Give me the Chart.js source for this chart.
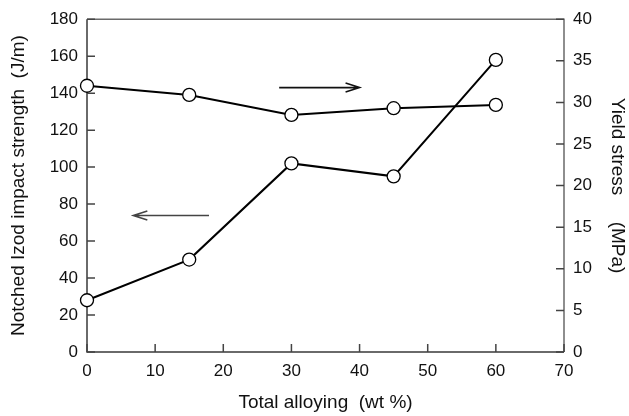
<!DOCTYPE html>
<html>
<head>
<meta charset="utf-8">
<script src="https://cdn.jsdelivr.net/npm/chart.js@4/dist/chart.umd.min.js"></script>
<style>
html,body{margin:0;padding:0;background:#fff;}
#wrap{width:629px;height:416px;}
</style>
</head>
<body>
<div id="wrap"><canvas id="c" width="629" height="416"></canvas></div>
<script>
// ---- data ----
const alloying = [0, 15, 30, 45, 60];            // wt %
const impactStrength = [28, 50, 102, 95, 158];   // J/m (left axis)
const yieldStress = [32.0, 30.9, 28.5, 29.3, 29.7]; // MPa (right axis)
const xTitle = 'Total alloying  (wt %)';
const yLeftTitle = 'Notched Izod impact strength  (J/m)';
const yRightTitle = 'Yield stress     (MPa)';
// annotation arrows: [xFrom, xTo, yLeftValue]
const arrowRight = [28.2, 40, 143];
const arrowLeft = [17.9, 6.8, 73.8];

const FONT = 'Liberation Sans, Arial, Helvetica, sans-serif';

const framePlugin = {
  id: 'frame',
  beforeDatasetsDraw(chart) {
    const {ctx, chartArea: a, scales} = chart;
    ctx.save();
    ctx.lineCap = 'butt';
    ctx.strokeStyle = '#6a6a6a';
    ctx.lineWidth = 1.5;
    ctx.beginPath();
    ctx.moveTo(a.left, a.top); ctx.lineTo(a.right, a.top); ctx.lineTo(a.right, a.bottom);
    ctx.stroke();
    ctx.strokeStyle = '#3a3a3a';
    ctx.beginPath();
    ctx.moveTo(a.left, a.top); ctx.lineTo(a.left, a.bottom); ctx.lineTo(a.right, a.bottom);
    ctx.stroke();
    const L = 8;
    ctx.strokeStyle = '#444';
    ctx.lineWidth = 1.5;
    ctx.beginPath();
    scales.y.ticks.forEach(t => {
      const p = scales.y.getPixelForValue(t.value);
      ctx.moveTo(a.left, p); ctx.lineTo(a.left + L, p);
    });
    scales.y2.ticks.forEach(t => {
      const p = scales.y2.getPixelForValue(t.value);
      ctx.moveTo(a.right, p); ctx.lineTo(a.right - L, p);
    });
    scales.x.ticks.forEach(t => {
      const p = scales.x.getPixelForValue(t.value);
      ctx.moveTo(p, a.bottom); ctx.lineTo(p, a.bottom - L);
    });
    ctx.stroke();
    function arrow(spec, color) {
      const x0 = scales.x.getPixelForValue(spec[0]);
      const x1 = scales.x.getPixelForValue(spec[1]);
      const y = scales.y.getPixelForValue(spec[2]);
      const dir = Math.sign(x1 - x0);
      ctx.strokeStyle = color;
      ctx.lineWidth = 1.6;
      ctx.beginPath();
      ctx.moveTo(x0, y); ctx.lineTo(x1, y);
      ctx.moveTo(x1 - dir * 14, y - 4.5); ctx.lineTo(x1, y); ctx.lineTo(x1 - dir * 14, y + 4.5);
      ctx.stroke();
    }
    arrow(arrowRight, '#111');
    arrow(arrowLeft, '#444');
    ctx.restore();
  }
};

new Chart(document.getElementById('c'), {
  type: 'line',
  data: {
    datasets: [
      {
        label: 'Impact strength',
        data: alloying.map((x, i) => ({x, y: impactStrength[i]})),
        yAxisID: 'y',
        borderColor: '#000', borderWidth: 2,
        pointRadius: 6.5, pointBackgroundColor: '#fff', pointBorderColor: '#000', pointBorderWidth: 1.3,
        clip: false, tension: 0
      },
      {
        label: 'Yield stress',
        data: alloying.map((x, i) => ({x, y: yieldStress[i]})),
        yAxisID: 'y2',
        borderColor: '#000', borderWidth: 2,
        pointRadius: 6.5, pointBackgroundColor: '#fff', pointBorderColor: '#000', pointBorderWidth: 1.3,
        clip: false, tension: 0
      }
    ]
  },
  options: {
    responsive: false,
    animation: false,
    events: [],
    layout: {padding: {top: 16, left: 0, right: 0, bottom: 0}},
    plugins: {legend: {display: false}, tooltip: {enabled: false}},
    scales: {
      x: {
        type: 'linear', min: 0, max: 70,
        ticks: {stepSize: 10, color: '#111', padding: 9, font: {family: FONT, size: 17}},
        grid: {display: false, drawTicks: false}, border: {display: false},
        title: {display: true, text: xTitle, color: '#111', padding: {top: 0, bottom: 2}, font: {family: FONT, size: 19}},
        afterFit(s) { s.height = 64; }
      },
      y: {
        type: 'linear', position: 'left', min: 0, max: 180,
        ticks: {stepSize: 20, color: '#111', padding: 9, font: {family: FONT, size: 17}},
        grid: {display: false, drawTicks: false}, border: {display: false},
        title: {display: true, text: yLeftTitle, color: '#111', padding: {top: 7.5, bottom: 0}, font: {family: FONT, size: 19}},
        afterFit(s) { s.width = 87; }
      },
      y2: {
        type: 'linear', position: 'right', min: 0, max: 40,
        ticks: {stepSize: 5, color: '#111', padding: 9, font: {family: FONT, size: 17}},
        grid: {display: false, drawTicks: false}, border: {display: false},
        title: {display: true, text: yRightTitle, color: '#111', padding: {top: 0, bottom: 0}, font: {family: FONT, size: 19}},
        afterFit(s) { s.width = 65; }
      }
    }
  },
  plugins: [framePlugin]
});
</script>
</body>
</html>
